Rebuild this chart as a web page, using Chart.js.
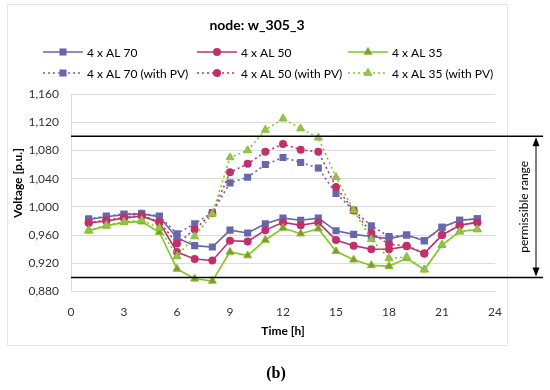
<!DOCTYPE html>
<html>
<head>
<meta charset="utf-8">
<script src="https://cdn.jsdelivr.net/npm/chart.js@4/dist/chart.umd.min.js"></script>
<style>
  html, body { margin: 0; padding: 0; background: #fff; }
  #wrap { position: relative; width: 550px; height: 390px; }
  canvas { display: block; }
</style>
</head>
<body>
<div id="wrap"><canvas id="c" width="550" height="390"></canvas></div>
<script>
// ---- data ----
const hours = [1,2,3,4,5,6,7,8,9,10,11,12,13,14,15,16,17,18,19,20,21,22,23];
const al70   = [0.982,0.986,0.989,0.990,0.986,0.956,0.945,0.943,0.967,0.963,0.976,0.984,0.981,0.984,0.966,0.961,0.958,0.955,0.960,0.952,0.971,0.981,0.983];
const al50   = [0.977,0.980,0.984,0.987,0.978,0.936,0.926,0.924,0.952,0.951,0.967,0.978,0.974,0.978,0.953,0.945,0.940,0.940,0.944,0.934,0.960,0.974,0.978];
const al35   = [0.966,0.973,0.978,0.979,0.964,0.912,0.898,0.895,0.936,0.931,0.953,0.970,0.962,0.969,0.937,0.925,0.917,0.916,0.927,0.911,0.946,0.965,0.968];
const al70pv = [0.983,0.987,0.990,0.991,0.987,0.962,0.976,0.992,1.034,1.042,1.060,1.070,1.063,1.055,1.019,0.995,0.973,0.958,0.960,0.952,0.971,0.981,0.983];
const al50pv = [0.978,0.981,0.985,0.988,0.979,0.948,0.968,0.991,1.049,1.061,1.078,1.089,1.081,1.078,1.028,0.995,0.963,0.947,0.945,0.934,0.960,0.974,0.978];
const al35pv = [0.967,0.974,0.979,0.981,0.970,0.930,0.958,0.990,1.070,1.080,1.109,1.125,1.111,1.098,1.042,0.995,0.954,0.927,0.929,0.911,0.946,0.965,0.968];
const seriesNames = ["4 x AL 70","4 x AL 50","4 x AL 35","4 x AL 70 (with PV)","4 x AL 50 (with PV)","4 x AL 35 (with PV)"];
const limitValues = [1.100, 0.900];
const yMin = 0.88, yMax = 1.16, yStep = 0.02;
const xMin = 0, xMax = 24, xStep = 3;

const FONT = "Lato, 'Open Sans', 'Liberation Sans', sans-serif";
const BLUE = '#6767AB', RED = '#C0306A', GREEN = '#80C820';

function pts(arr) { return hours.map((h, i) => ({ x: h, y: arr[i] })); }

const styles = [
  { color: BLUE,  dash: [], style: 'rect',     radius: 5,   fill: BLUE,      border: BLUE,  bw: 0 },
  { color: RED,   dash: [], style: 'circle',   radius: 4,   fill: RED,       border: RED,   bw: 0 },
  { color: GREEN, dash: [], style: 'triangle', radius: 4.6, fill: '#8E8E48', border: GREEN, bw: 1 },
  { color: BLUE,  dash: [2,3], style: 'rect',     radius: 5,   fill: BLUE,      border: BLUE,  bw: 0 },
  { color: RED,   dash: [2,3], style: 'circle',   radius: 4,   fill: RED,       border: RED,   bw: 0 },
  { color: GREEN, dash: [2,3], style: 'triangle', radius: 4.6, fill: '#9DB86A', border: GREEN, bw: 1 },
];
const arrays = [al70, al50, al35, al70pv, al50pv, al35pv];

const datasets = arrays.map((arr, i) => ({
  label: seriesNames[i],
  data: pts(arr),
  borderColor: styles[i].color,
  borderWidth: 1.6,
  borderDash: styles[i].dash,
  pointStyle: styles[i].style,
  pointRadius: styles[i].radius,
  pointBackgroundColor: styles[i].fill,
  pointBorderColor: styles[i].border,
  pointBorderWidth: styles[i].bw,
  tension: 0,
  fill: false,
  order: 6 - i,
}));

function drawMarker(ctx, s, x, y) {
  ctx.save();
  ctx.setLineDash([]);
  ctx.fillStyle = s.fill;
  ctx.strokeStyle = s.border;
  ctx.lineWidth = s.bw;
  ctx.beginPath();
  if (s.style === 'rect') {
    const h = Math.SQRT1_2 * s.radius;
    ctx.rect(x - h, y - h, 2 * h, 2 * h);
  } else if (s.style === 'circle') {
    ctx.arc(x, y, s.radius, 0, Math.PI * 2);
  } else {
    const r = s.radius;
    let a = 0;
    ctx.moveTo(x + Math.sin(a) * r, y - Math.cos(a) * r);
    a += 2 * Math.PI / 3;
    ctx.lineTo(x + Math.sin(a) * r, y - Math.cos(a) * r);
    a += 2 * Math.PI / 3;
    ctx.lineTo(x + Math.sin(a) * r, y - Math.cos(a) * r);
    ctx.closePath();
  }
  ctx.fill();
  if (s.bw > 0) ctx.stroke();
  ctx.restore();
}

const decor = {
  id: 'decor',
  beforeDraw(chart) {
    const ctx = chart.ctx;
    ctx.save();
    ctx.fillStyle = '#fff';
    ctx.fillRect(0, 0, chart.width, chart.height);
    ctx.strokeStyle = '#e6e6e6';
    ctx.lineWidth = 1;
    ctx.strokeRect(7.5, 4.5, 500, 341);
    ctx.restore();
  },
  afterDatasetsDraw(chart) {
    const ctx = chart.ctx;
    const ys = chart.scales.y;
    const area = chart.chartArea;
    ctx.save();
    ctx.strokeStyle = '#000';
    ctx.lineWidth = 1.5;
    const yPix = limitValues.map(v => ys.getPixelForValue(v));
    yPix.forEach(py => {
      ctx.beginPath();
      ctx.moveTo(area.left, py);
      ctx.lineTo(543, py);
      ctx.stroke();
    });
    const ax = 536;
    ctx.lineWidth = 1;
    ctx.beginPath();
    ctx.moveTo(ax, yPix[0] + 6);
    ctx.lineTo(ax, yPix[1] - 6);
    ctx.stroke();
    ctx.fillStyle = '#000';
    ctx.beginPath();
    ctx.moveTo(ax, yPix[0] + 1); ctx.lineTo(ax - 3.5, yPix[0] + 10); ctx.lineTo(ax + 3.5, yPix[0] + 10); ctx.closePath(); ctx.fill();
    ctx.beginPath();
    ctx.moveTo(ax, yPix[1] - 1); ctx.lineTo(ax - 3.5, yPix[1] - 10); ctx.lineTo(ax + 3.5, yPix[1] - 10); ctx.closePath(); ctx.fill();
    ctx.save();
    ctx.translate(524, (yPix[0] + yPix[1]) / 2);
    ctx.rotate(-Math.PI / 2);
    ctx.font = '12px ' + FONT;
    ctx.fillStyle = '#000';
    ctx.textAlign = 'center';
    ctx.textBaseline = 'middle';
    ctx.fillText('permissible range', 0, 0);
    ctx.restore();

    ctx.font = 'bold 14px ' + FONT;
    ctx.fillStyle = '#000';
    ctx.textAlign = 'center';
    ctx.textBaseline = 'middle';
    ctx.fillText('node: w_305_3', 257, 25);

    ctx.font = 'bold 12px ' + FONT;
    ctx.fillText('Time [h]', (area.left + area.right) / 2, 331);
    ctx.save();
    ctx.translate(18, 183);
    ctx.rotate(-Math.PI / 2);
    ctx.fillText('Voltage [p.u.]', 0, 0);
    ctx.restore();

    const cols = [43, 197, 348];
    const rows = [52, 73];
    ctx.font = '12px ' + FONT;
    ctx.textAlign = 'left';
    datasets.forEach((d, i) => {
      const s = styles[i];
      const x0 = cols[i % 3], y0 = rows[Math.floor(i / 3)];
      ctx.save();
      ctx.strokeStyle = s.color;
      ctx.lineWidth = 1.6;
      ctx.setLineDash(s.dash);
      ctx.beginPath();
      ctx.moveTo(x0, y0);
      ctx.lineTo(x0 + 40, y0);
      ctx.stroke();
      ctx.restore();
      drawMarker(ctx, s, x0 + 20, y0);
      ctx.fillStyle = '#000';
      ctx.fillText(d.label, x0 + 44, y0 + 1);
    });

    ctx.font = 'bold 16px "Liberation Serif", "DejaVu Serif", serif';
    ctx.textAlign = 'center';
    ctx.fillText('(b)', 276, 374);
    ctx.restore();
  }
};

new Chart(document.getElementById('c'), {
  type: 'line',
  data: { datasets },
  plugins: [decor],
  options: {
    responsive: false,
    animation: false,
    events: [],
    layout: { padding: { top: 94, right: 55, left: 0, bottom: 0 } },
    plugins: { legend: { display: false }, title: { display: false }, tooltip: { enabled: false } },
    scales: {
      x: {
        type: 'linear', min: xMin, max: xMax,
        ticks: { stepSize: xStep, padding: 13, color: '#333', font: { family: FONT, size: 12 } },
        grid: { display: false, drawTicks: false },
        border: { display: false },
        afterFit(scale) { scale.height = 98.5; }
      },
      y: {
        min: yMin, max: yMax,
        ticks: {
          stepSize: yStep, padding: 12, color: '#333', font: { family: FONT, size: 12 },
          callback: v => v.toFixed(3).replace('.', ',')
        },
        grid: { color: '#dcdcdc', lineWidth: 1, drawTicks: false },
        border: { display: true, color: '#dcdcdc' },
        afterFit(scale) { scale.width = 71; }
      }
    }
  }
});
</script>
</body>
</html>
